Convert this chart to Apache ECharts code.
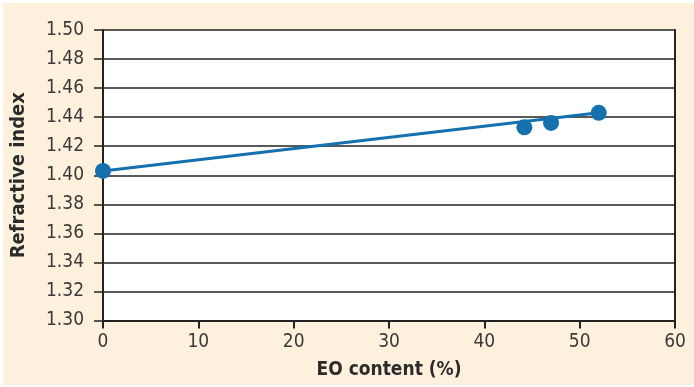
<!DOCTYPE html>
<html><head><meta charset="utf-8">
<script src="https://cdn.jsdelivr.net/npm/echarts@6/dist/echarts.min.js"></script>
<style>
html,body{margin:0;padding:0;background:#fff;}
#wrap{position:absolute;left:3px;top:3px;right:0;bottom:2px;background:#fdf0dc;}
#c{position:absolute;left:0;top:0;width:694px;height:387px;}
</style></head>
<body><div id="wrap"></div><div id="c"></div>
<script>
const eoContent = [0, 44.2, 47.0, 52.0];
const refractiveIndex = [1.403, 1.433, 1.436, 1.443];
const trendX = [0, 52.0];
const trendY = [1.403, 1.443];
const xTicks = [0, 10, 20, 30, 40, 50, 60];
const yTicks = [1.30, 1.32, 1.34, 1.36, 1.38, 1.40, 1.42, 1.44, 1.46, 1.48, 1.50];

const font = '"DejaVu Sans Condensed", "Liberation Sans Narrow", "Liberation Sans", sans-serif';
const chart = echarts.init(document.getElementById('c'), null, {renderer: 'canvas'});
chart.setOption({
  backgroundColor: 'transparent',
  animation: false,
  grid: {left: 103, right: 19, top: 30, bottom: 66.5, show: true, backgroundColor: '#ffffff', borderWidth: 0,
    containLabel: false, outerBoundsMode: 'none'},
  xAxis: {
    type: 'value', min: xTicks[0], max: xTicks[xTicks.length - 1], interval: 10,
    name: 'EO content (%)', nameLocation: 'middle', nameGap: 40,
    nameTextStyle: {fontFamily: font, fontWeight: 'bold', fontSize: 19, color: '#2b2b2b'},
    axisLine: {show: true, lineStyle: {color: '#222', width: 2}},
    axisTick: {show: true, length: 8, lineStyle: {color: '#222', width: 2}},
    axisLabel: {fontFamily: font, fontSize: 19, color: '#3a3a3a', margin: 12},
    splitLine: {show: false}
  },
  yAxis: [{
    type: 'value', min: yTicks[0], max: yTicks[yTicks.length - 1], interval: 0.02,
    name: 'Refractive index', nameLocation: 'middle', nameGap: 74, nameRotate: 90,
    nameTextStyle: {fontFamily: font, fontWeight: 'bold', fontSize: 20, color: '#2b2b2b'},
    axisLine: {show: true, lineStyle: {color: '#222', width: 2}},
    axisTick: {show: true, length: 9, lineStyle: {color: '#222', width: 1.5}},
    axisLabel: {fontFamily: font, fontSize: 19, color: '#3a3a3a', margin: 19,
      formatter: v => v.toFixed(2)},
    splitLine: {show: true, lineStyle: {color: '#222', width: 1.5}}
  }, {
    type: 'value', position: 'right', min: yTicks[0], max: yTicks[yTicks.length - 1],
    axisLine: {show: true, lineStyle: {color: '#222', width: 2}},
    axisTick: {show: false}, axisLabel: {show: false}, splitLine: {show: false}
  }],
  series: [{
    type: 'line',
    data: trendX.map((x, i) => [x, trendY[i]]),
    symbol: 'none',
    lineStyle: {color: '#1570ad', width: 3},
    z: 3
  }, {
    type: 'scatter',
    data: eoContent.map((x, i) => [x, refractiveIndex[i]]),
    symbolSize: 16,
    itemStyle: {color: '#1570ad', opacity: 1},
    z: 4
  }]
});
</script></body></html>
